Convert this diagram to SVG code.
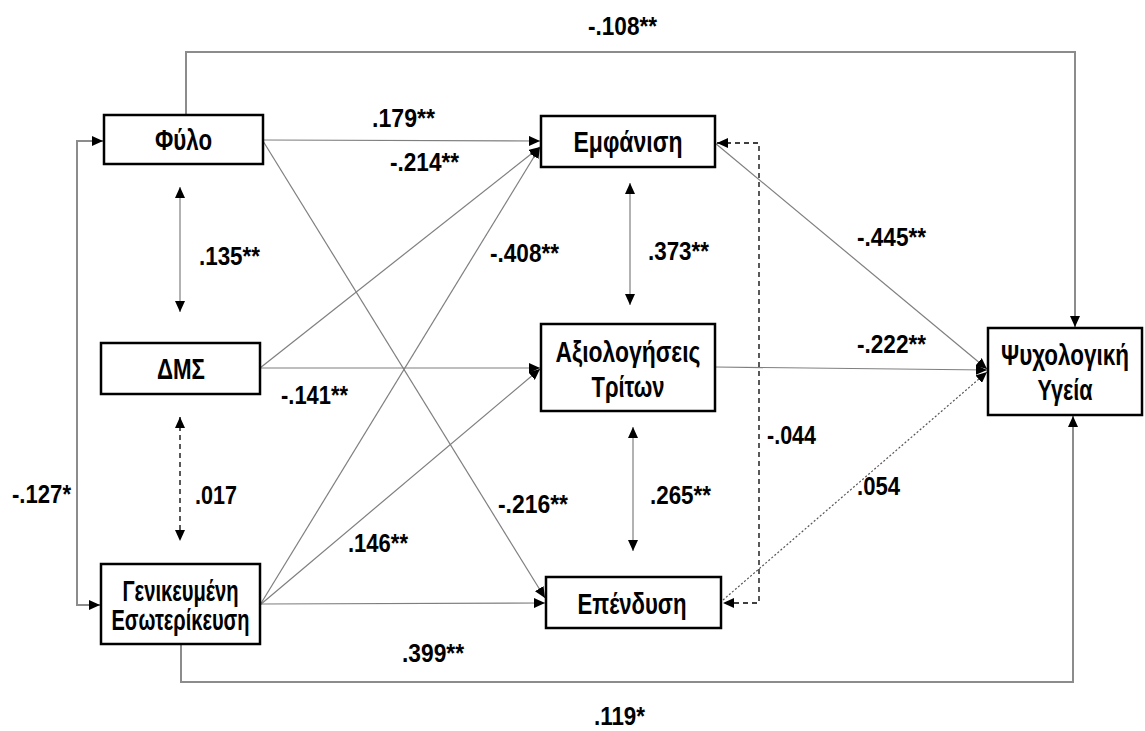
<svg xmlns="http://www.w3.org/2000/svg" width="1145" height="731" viewBox="0 0 1145 731">
<style>
.box{fill:#fff;stroke:#000;stroke-width:2.5}
.bt{font-family:"Liberation Sans Narrow","Liberation Sans",Arial,sans-serif;font-weight:700;font-size:29px;fill:#000;text-anchor:middle}
.lb{font-family:"Liberation Sans Narrow","Liberation Sans",Arial,sans-serif;font-weight:700;font-size:26px;fill:#000}
.c{fill:none;stroke:#7f7f7f;stroke-width:1.2}
.cb{fill:none;stroke:#8c8c8c;stroke-width:2}
.ds{fill:none;stroke:#000;stroke-width:1.3;stroke-dasharray:5 4}
.dt{fill:none;stroke:#555;stroke-width:1.2;stroke-dasharray:2 2}
</style>
<defs>
<marker id="a" markerUnits="userSpaceOnUse" markerWidth="12" markerHeight="10" refX="11" refY="5" orient="auto-start-reverse" viewBox="0 0 12 10">
<path d="M0,0 L11,5 L0,10 z" fill="#000"/>
</marker>
</defs>
<rect width="1145" height="731" fill="#fff"/>
<g id="connectors">
<path class="cb" d="M186,115 V52 H1075 V327" marker-end="url(#a)"/>
<path class="cb" d="M181,644 V682 H1073 V416" marker-end="url(#a)"/>
<path class="cb" d="M103,141 H77 V605 H100" marker-start="url(#a)" marker-end="url(#a)"/>
<path class="c" d="M180,187 V312" marker-start="url(#a)" marker-end="url(#a)"/>
<path class="ds" d="M180,417 V541" marker-start="url(#a)" marker-end="url(#a)"/>
<path class="c" d="M630,183 V305" marker-start="url(#a)" marker-end="url(#a)"/>
<path class="c" d="M633,427 V551" marker-start="url(#a)" marker-end="url(#a)"/>
<path class="c" d="M263,140 L540,141" marker-end="url(#a)"/>
<path class="c" d="M263,141 L545,598" marker-end="url(#a)"/>
<path class="c" d="M260,368 L540,147" marker-end="url(#a)"/>
<path class="c" d="M260,368 L540,368" marker-end="url(#a)"/>
<path class="c" d="M260,605 L540,147" marker-end="url(#a)"/>
<path class="c" d="M260,605 L540,369" marker-end="url(#a)"/>
<path class="c" d="M260,604 L545,603" marker-end="url(#a)"/>
<path class="c" d="M715,143 L987,369" marker-end="url(#a)"/>
<path class="c" d="M715,367 L987,370" marker-end="url(#a)"/>
<path class="dt" d="M723,600 L987,372" marker-end="url(#a)"/>
<path class="ds" d="M717,143 H759 V603 H723" marker-start="url(#a)" marker-end="url(#a)"/>
</g>
<g id="n-fylo"><rect class="box" x="104" y="115" width="159" height="49"/><text class="bt" x="183.5" y="150" textLength="57" lengthAdjust="spacingAndGlyphs">Φύλο</text></g>
<g id="n-dms"><rect class="box" x="101" y="343" width="159" height="51"/><text class="bt" x="181" y="379" textLength="48" lengthAdjust="spacingAndGlyphs">ΔΜΣ</text></g>
<g id="n-gen"><rect class="box" x="101" y="564" width="159" height="80"/><text class="bt" x="180.5" y="601" textLength="116" lengthAdjust="spacingAndGlyphs">Γενικευμένη</text><text class="bt" x="180.5" y="630" textLength="138" lengthAdjust="spacingAndGlyphs">Εσωτερίκευση</text></g>
<g id="n-emf"><rect class="box" x="541" y="116" width="174" height="51"/><text class="bt" x="628" y="152" textLength="109" lengthAdjust="spacingAndGlyphs">Εμφάνιση</text></g>
<g id="n-axi"><rect class="box" x="541" y="324" width="174" height="87"/><text class="bt" x="628" y="362" textLength="145" lengthAdjust="spacingAndGlyphs">Αξιολογήσεις</text><text class="bt" x="628" y="397" textLength="73" lengthAdjust="spacingAndGlyphs">Τρίτων</text></g>
<g id="n-epe"><rect class="box" x="546" y="577" width="175" height="51"/><text class="bt" x="632" y="614" textLength="109" lengthAdjust="spacingAndGlyphs">Επένδυση</text></g>
<g id="n-psy"><rect class="box" x="988" y="328" width="154" height="87"/><text class="bt" x="1065" y="365" font-size="26" textLength="128" lengthAdjust="spacingAndGlyphs">Ψυχολογική</text><text class="bt" x="1065" y="400" textLength="55" lengthAdjust="spacingAndGlyphs">Υγεία</text></g>
<g id="labels">
<text class="lb" x="588" y="35" textLength="69" lengthAdjust="spacingAndGlyphs">-.108**</text>
<text class="lb" x="372" y="127" textLength="63" lengthAdjust="spacingAndGlyphs">.179**</text>
<text class="lb" x="390" y="171" textLength="69" lengthAdjust="spacingAndGlyphs">-.214**</text>
<text class="lb" x="490" y="262" textLength="69" lengthAdjust="spacingAndGlyphs">-.408**</text>
<text class="lb" x="648" y="260" textLength="61" lengthAdjust="spacingAndGlyphs">.373**</text>
<text class="lb" x="199" y="265" textLength="61" lengthAdjust="spacingAndGlyphs">.135**</text>
<text class="lb" x="857" y="246" textLength="69" lengthAdjust="spacingAndGlyphs">-.445**</text>
<text class="lb" x="857" y="353" textLength="69" lengthAdjust="spacingAndGlyphs">-.222**</text>
<text class="lb" x="281" y="404" textLength="67" lengthAdjust="spacingAndGlyphs">-.141**</text>
<text class="lb" x="767" y="444" textLength="49" lengthAdjust="spacingAndGlyphs">-.044</text>
<text class="lb" x="857" y="495" textLength="43" lengthAdjust="spacingAndGlyphs">.054</text>
<text class="lb" x="12" y="503" textLength="59" lengthAdjust="spacingAndGlyphs">-.127*</text>
<text class="lb" x="195" y="504" textLength="42" lengthAdjust="spacingAndGlyphs">.017</text>
<text class="lb" x="348" y="552" textLength="60" lengthAdjust="spacingAndGlyphs">.146**</text>
<text class="lb" x="498" y="513" textLength="70" lengthAdjust="spacingAndGlyphs">-.216**</text>
<text class="lb" x="650" y="504" textLength="61" lengthAdjust="spacingAndGlyphs">.265**</text>
<text class="lb" x="402" y="662" textLength="62" lengthAdjust="spacingAndGlyphs">.399**</text>
<text class="lb" x="594" y="725" textLength="51" lengthAdjust="spacingAndGlyphs">.119*</text>
</g>
</svg>
